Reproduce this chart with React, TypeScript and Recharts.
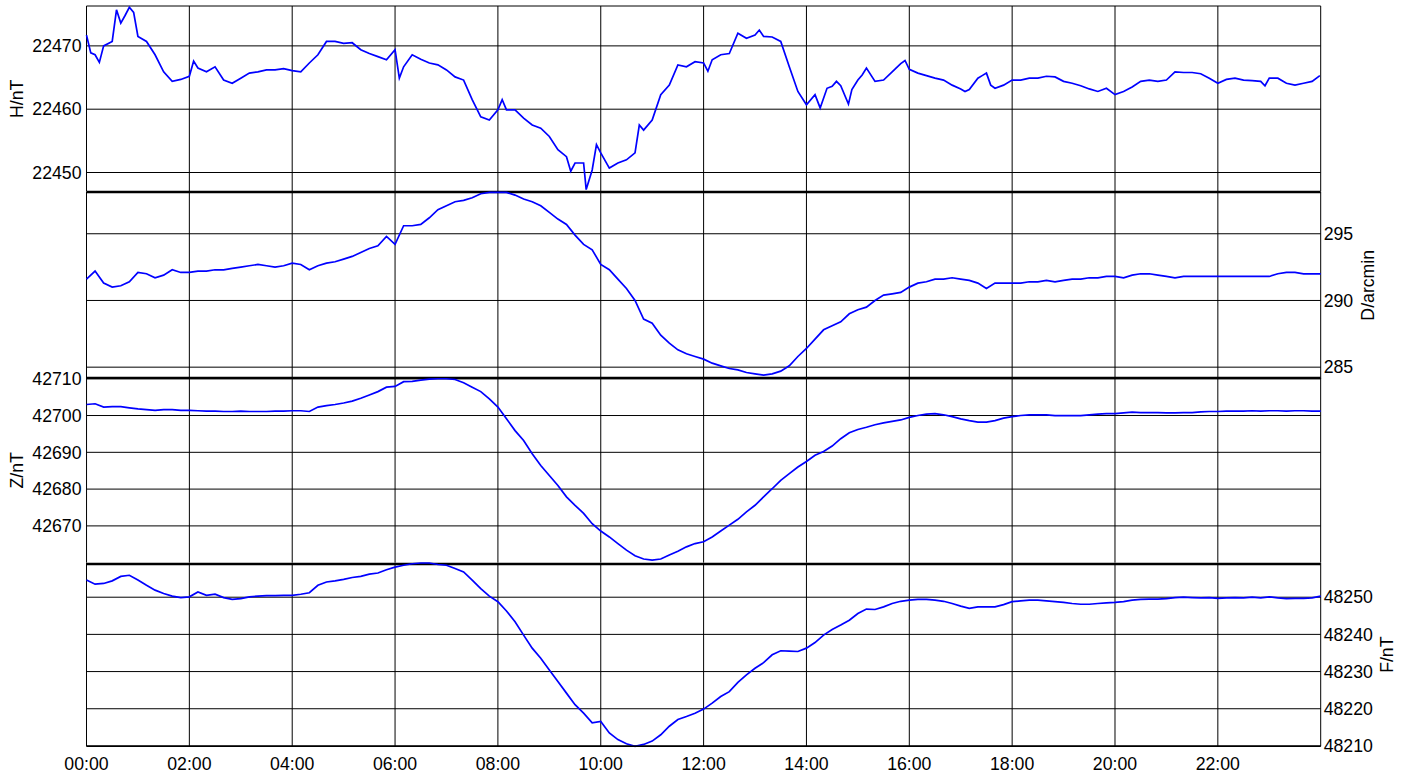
import React from 'react';
import { LineChart, Line, XAxis, YAxis, CartesianGrid, ReferenceLine } from 'recharts';

const FONT = '"Liberation Sans", Arial, Helvetica, sans-serif';
const CHART_W = 1412;
const LEFT_SPACE = 86.5;
const RIGHT_SPACE = 91.3;
const PAD = 12;

// time axis (minutes of the day)
const timeTicks = [0, 120, 240, 360, 480, 600, 720, 840, 960, 1080, 1200, 1320];
const timeLabels = ['00:00', '02:00', '04:00', '06:00', '08:00', '10:00', '12:00', '14:00', '16:00', '18:00', '20:00', '22:00'];
const timeGrid = [0, 120, 240, 360, 480, 600, 720, 840, 960, 1080, 1200, 1320, 1440];

// H component (irregular spacing to keep the spikes)
const hMinutes = [
  0, 5, 10, 15, 20, 30, 35, 40, 45, 50, 55, 60, 70, 80, 90, 100, 110,
  120, 125, 130, 140, 150, 160, 170, 180, 190, 200, 210, 220, 230,
  240, 250, 260, 270, 280, 290, 300, 310, 320, 330, 340, 350,
  360, 365, 370, 380, 390, 400, 410, 420, 430, 440, 450, 460, 470,
  480, 485, 490, 500, 510, 520, 530, 540, 550, 560, 565, 570, 580, 583, 590, 595,
  600, 610, 620, 630, 640, 645, 650, 660, 670, 680, 690, 700, 710,
  720, 725, 730, 740, 750, 760, 770, 780, 785, 790, 800, 810, 820, 830,
  840, 850, 856, 864, 870, 875, 880, 889, 893, 900, 905, 910, 920, 930, 940, 950, 955,
  960, 970, 980, 990, 1000, 1010, 1020, 1025, 1030, 1040, 1045, 1050, 1055, 1060, 1070,
  1080, 1090, 1100, 1110, 1120, 1130, 1140, 1150, 1160, 1170, 1180, 1190,
  1200, 1210, 1220, 1230, 1240, 1250, 1260, 1270, 1280, 1290, 1300, 1310,
  1320, 1330, 1340, 1350, 1360, 1370, 1375, 1380, 1390, 1400, 1410, 1420, 1430, 1439,
];
const hValues = [
  22471.7, 22468.9, 22468.6, 22467.4, 22470.0, 22470.7, 22475.7, 22473.6, 22474.8, 22476.1, 22475.3, 22471.5, 22470.7, 22468.6, 22465.9, 22464.4, 22464.7,
  22465.2, 22467.6, 22466.5, 22465.9, 22466.7, 22464.6, 22464.1, 22464.9, 22465.7, 22465.9, 22466.2, 22466.2, 22466.4,
  22466.1, 22465.9, 22467.3, 22468.6, 22470.7, 22470.7, 22470.4, 22470.5, 22469.4, 22468.8, 22468.3, 22467.8,
  22469.4, 22464.9, 22466.7, 22468.6, 22467.9, 22467.3, 22467.0, 22466.2, 22465.1, 22464.6, 22461.5, 22458.8, 22458.3,
  22459.9, 22461.5, 22459.9, 22459.9, 22458.6, 22457.5, 22457.0, 22455.7, 22453.6, 22452.5, 22450.2, 22451.5, 22451.5, 22447.3, 22450.4, 22454.4,
  22453.1, 22450.7, 22451.5, 22452.0, 22453.1, 22457.5, 22456.7, 22458.3, 22462.3, 22463.8, 22467.0, 22466.7, 22467.5,
  22467.3, 22466.0, 22467.8, 22468.6, 22468.8, 22472.0, 22471.2, 22471.7, 22472.5, 22471.5, 22471.4, 22470.7, 22466.7, 22462.8,
  22460.7, 22462.3, 22460.2, 22463.3, 22463.6, 22464.4, 22463.7, 22460.8, 22463.1, 22464.6, 22465.4, 22466.5, 22464.4, 22464.6, 22465.9, 22467.2, 22467.7,
  22466.3, 22465.7, 22465.3, 22464.9, 22464.6, 22463.8, 22463.2, 22462.8, 22463.1, 22464.9, 22465.3, 22465.7, 22463.8, 22463.3, 22463.8,
  22464.6, 22464.6, 22464.9, 22464.9, 22465.2, 22465.1, 22464.4, 22464.1, 22463.7, 22463.2, 22462.8, 22463.3,
  22462.3, 22462.8, 22463.5, 22464.4, 22464.6, 22464.4, 22464.6, 22465.9, 22465.8, 22465.8, 22465.6, 22464.9,
  22464.1, 22464.7, 22464.9, 22464.6, 22464.5, 22464.4, 22463.7, 22464.9, 22464.9, 22464.1, 22463.8, 22464.1, 22464.4, 22465.3,
];

// D, Z and F are sampled every 10 minutes
const minutes = [
  0, 10, 20, 30, 40, 50, 60, 70, 80, 90, 100, 110,
  120, 130, 140, 150, 160, 170, 180, 190, 200, 210, 220, 230,
  240, 250, 260, 270, 280, 290, 300, 310, 320, 330, 340, 350,
  360, 370, 380, 390, 400, 410, 420, 430, 440, 450, 460, 470,
  480, 490, 500, 510, 520, 530, 540, 550, 560, 570, 580, 590,
  600, 610, 620, 630, 640, 650, 660, 670, 680, 690, 700, 710,
  720, 730, 740, 750, 760, 770, 780, 790, 800, 810, 820, 830,
  840, 850, 860, 870, 880, 890, 900, 910, 920, 930, 940, 950,
  960, 970, 980, 990, 1000, 1010, 1020, 1030, 1040, 1050, 1060, 1070,
  1080, 1090, 1100, 1110, 1120, 1130, 1140, 1150, 1160, 1170, 1180, 1190,
  1200, 1210, 1220, 1230, 1240, 1250, 1260, 1270, 1280, 1290, 1300, 1310,
  1320, 1330, 1340, 1350, 1360, 1370, 1380, 1390, 1400, 1410, 1420, 1430,
  1440,
];
const dValues = [
  291.6, 292.2, 291.3, 291.0, 291.1, 291.4, 292.1, 292.0, 291.7, 291.9, 292.3, 292.1,
  292.1, 292.2, 292.2, 292.3, 292.3, 292.4, 292.5, 292.6, 292.7, 292.6, 292.5, 292.6,
  292.8, 292.7, 292.3, 292.6, 292.8, 292.9, 293.1, 293.3, 293.6, 293.9, 294.1, 294.8,
  294.2, 295.6, 295.6, 295.7, 296.2, 296.8, 297.1, 297.4, 297.5, 297.7, 298.0, 298.1,
  298.1, 298.1, 297.9, 297.6, 297.4, 297.1, 296.6, 296.1, 295.7, 294.9, 294.2, 293.8,
  292.7, 292.3, 291.6, 290.9, 290.0, 288.6, 288.3, 287.4, 286.8, 286.3, 286.0, 285.8,
  285.6, 285.3, 285.1, 284.9, 284.8, 284.6, 284.5, 284.4, 284.5, 284.7, 285.1, 285.8,
  286.4, 287.1, 287.8, 288.1, 288.4, 289.0, 289.3, 289.5, 290.0, 290.4, 290.5, 290.6,
  291.0, 291.3, 291.4, 291.6, 291.6, 291.7, 291.6, 291.5, 291.3, 290.9, 291.3, 291.3,
  291.3, 291.3, 291.4, 291.4, 291.5, 291.4, 291.5, 291.6, 291.6, 291.7, 291.7, 291.8,
  291.8, 291.7, 291.9, 292.0, 292.0, 291.9, 291.8, 291.7, 291.8, 291.8, 291.8, 291.8,
  291.8, 291.8, 291.8, 291.8, 291.8, 291.8, 291.8, 292.0, 292.1, 292.1, 292.0, 292.0,
  292.0,
];
const zValues = [
  42703.0, 42703.2, 42702.3, 42702.4, 42702.4, 42702.1, 42701.8, 42701.6, 42701.4, 42701.6, 42701.6, 42701.4,
  42701.4, 42701.3, 42701.2, 42701.2, 42701.1, 42701.1, 42701.2, 42701.1, 42701.1, 42701.1, 42701.2, 42701.2,
  42701.3, 42701.3, 42701.1, 42702.3, 42702.7, 42703.0, 42703.4, 42703.9, 42704.7, 42705.6, 42706.5, 42707.7,
  42707.9, 42709.2, 42709.3, 42709.6, 42709.9, 42710.0, 42710.0, 42709.8, 42708.9, 42707.7, 42706.5, 42704.5,
  42702.3, 42699.1, 42695.9, 42693.2, 42689.6, 42686.4, 42683.7, 42681.0, 42677.9, 42675.6, 42673.4, 42670.6,
  42668.6, 42667.0, 42665.2, 42663.4, 42661.9, 42661.0, 42660.7, 42661.0, 42662.1, 42663.1, 42664.3, 42665.2,
  42665.7, 42667.0, 42668.6, 42670.2, 42671.8, 42673.8, 42675.6, 42677.9, 42680.1, 42682.4, 42684.2, 42686.0,
  42687.5, 42689.2, 42690.2, 42691.7, 42693.7, 42695.3, 42696.2, 42696.8, 42697.5, 42698.0, 42698.4, 42698.8,
  42699.5, 42700.0, 42700.4, 42700.5, 42700.2, 42699.7, 42699.1, 42698.6, 42698.2, 42698.2, 42698.6, 42699.3,
  42699.7, 42700.0, 42700.2, 42700.2, 42700.2, 42700.0, 42700.0, 42700.0, 42700.0, 42700.2, 42700.4, 42700.5,
  42700.5, 42700.7, 42700.9, 42700.8, 42700.8, 42700.8, 42700.7, 42700.7, 42700.8, 42700.8, 42701.0, 42701.1,
  42701.1, 42701.2, 42701.2, 42701.2, 42701.3, 42701.2, 42701.3, 42701.3, 42701.2, 42701.3, 42701.3, 42701.2,
  42701.2,
];
const fValues = [
  48254.6, 48253.5, 48253.7, 48254.4, 48255.6, 48255.9, 48254.6, 48253.2, 48251.9, 48251.0, 48250.3, 48249.9,
  48250.1, 48251.4, 48250.5, 48250.8, 48249.9, 48249.4, 48249.6, 48250.1, 48250.3, 48250.4, 48250.4, 48250.5,
  48250.5, 48250.8, 48251.2, 48253.2, 48254.1, 48254.4, 48254.8, 48255.3, 48255.6, 48256.2, 48256.5, 48257.4,
  48258.1, 48258.6, 48259.0, 48259.2, 48259.2, 48258.8, 48258.6, 48257.7, 48256.8, 48254.6, 48252.3, 48250.3,
  48248.8, 48246.3, 48243.4, 48239.8, 48236.3, 48233.6, 48230.4, 48227.3, 48224.2, 48221.1, 48218.8, 48216.2,
  48216.6, 48213.5, 48211.7, 48210.6, 48209.9, 48210.4, 48211.3, 48213.0, 48215.3, 48217.1, 48217.9, 48218.8,
  48219.9, 48221.5, 48223.3, 48224.6, 48227.1, 48229.1, 48230.9, 48232.4, 48234.5, 48235.6, 48235.5, 48235.4,
  48236.3, 48237.8, 48239.8, 48241.3, 48242.5, 48243.8, 48245.6, 48246.8, 48246.7, 48247.4, 48248.3, 48248.9,
  48249.2, 48249.4, 48249.4, 48249.2, 48248.9, 48248.3, 48247.6, 48247.0, 48247.4, 48247.4, 48247.4, 48248.0,
  48248.8, 48249.0, 48249.2, 48249.2, 48249.0, 48248.8, 48248.6, 48248.3, 48248.1, 48248.1, 48248.3, 48248.5,
  48248.6, 48248.8, 48249.2, 48249.4, 48249.5, 48249.5, 48249.6, 48249.9, 48250.0, 48249.9, 48249.8, 48249.9,
  48249.7, 48249.8, 48249.9, 48249.8, 48250.0, 48249.8, 48250.1, 48249.8, 48249.6, 48249.7, 48249.7, 48249.8,
  48250.3,
];

// axis ticks and ranges of each panel
const hTicks = [22450, 22460, 22470];
const dTicks = [285, 290, 295];
const zTicks = [42670, 42680, 42690, 42700, 42710];
const fTicks = [48210, 48220, 48230, 48240, 48250];
const hDomain = [22447.0, 22476.3];
const dDomain = [284.15, 298.13];
const zDomain = [42660.0, 42710.2];
const fDomain = [48209.9, 48258.9];

const toRows = (times: number[], values: number[]) => times.map((t, i) => ({ t, v: values[i] }));

const hData = toRows(hMinutes, hValues);
const dData = toRows(minutes, dValues);
const zData = toRows(minutes, zValues);
const fData = toRows(minutes, fValues);

const formatTime = (v: number) => {
  const i = timeTicks.indexOf(v);
  return i >= 0 ? timeLabels[i] : '';
};

interface PanelProps {
  top: number;
  plotHeight: number;
  data: { t: number; v: number }[];
  domain: number[];
  ticks: number[];
  side: 'left' | 'right';
  title: string;
  titleOffset: number;
  topLine: number;
  showTime?: boolean;
}

function Panel({ top, plotHeight, data, domain, ticks, side, title, titleOffset, topLine, showTime }: PanelProps) {
  const axisHeight = showTime ? 30 : 0;
  const tickStyle = { fill: '#000', fontSize: 17.7, fontFamily: FONT };
  return (
    <div style={{ position: 'absolute', left: 0, top: top - PAD }}>
      <LineChart
        width={CHART_W}
        height={plotHeight + axisHeight + PAD * 2}
        data={data}
        margin={{
          top: PAD,
          bottom: PAD,
          left: side === 'left' ? 0 : LEFT_SPACE,
          right: side === 'right' ? 0 : RIGHT_SPACE,
        }}
      >
        <CartesianGrid stroke="#000" strokeWidth={1} verticalValues={timeGrid} horizontalValues={ticks} />
        <XAxis
          dataKey="t"
          type="number"
          domain={[0, 1440]}
          ticks={timeTicks}
          interval={0}
          hide={!showTime}
          height={axisHeight}
          tickFormatter={formatTime}
          tickLine={false}
          tickSize={6}
          tickMargin={5}
          axisLine={{ stroke: '#000', strokeWidth: 1.5 }}
          tick={tickStyle}
        />
        <YAxis
          orientation={side}
          width={side === 'left' ? LEFT_SPACE : RIGHT_SPACE}
          type="number"
          domain={domain}
          ticks={ticks}
          interval={0}
          tickLine={false}
          axisLine={false}
          tickSize={0}
          tickMargin={side === 'left' ? 5 : 3}
          tick={tickStyle}
          label={{
            value: title,
            angle: -90,
            position: side === 'left' ? 'insideLeft' : 'insideRight',
            offset: titleOffset,
            style: { textAnchor: 'middle', fill: '#000', fontSize: 17.7, fontFamily: FONT },
          }}
        />
        <ReferenceLine y={domain[1]} stroke="#000" strokeWidth={topLine} />
        <Line
          type="linear"
          dataKey="v"
          stroke="#0000ff"
          strokeWidth={1.7}
          dot={false}
          isAnimationActive={false}
        />
      </LineChart>
    </div>
  );
}

export default function App() {
  return (
    <div style={{ position: 'absolute', left: 0, top: 0, width: 1412, height: 777, background: '#fff', fontFamily: FONT }}>
      <Panel top={6} plotHeight={185.5} data={hData} domain={hDomain} ticks={hTicks} side="left" title="H/nT" titleOffset={17} topLine={1} />
      <Panel top={191.5} plotHeight={186.5} data={dData} domain={dDomain} ticks={dTicks} side="right" title="D/arcmin" titleOffset={44.5} topLine={2.5} />
      <Panel top={378} plotHeight={184.7} data={zData} domain={zDomain} ticks={zTicks} side="left" title="Z/nT" titleOffset={17} topLine={2.5} />
      <Panel top={562.7} plotHeight={183.3} data={fData} domain={fDomain} ticks={fTicks} side="right" title="F/nT" titleOffset={25.3} topLine={2.5} showTime />
    </div>
  );
}
